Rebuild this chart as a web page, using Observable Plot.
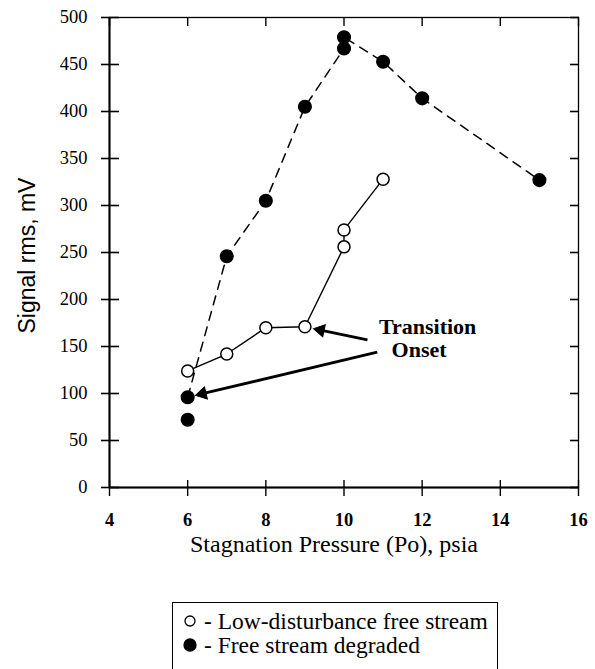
<!DOCTYPE html>
<html>
<head>
<meta charset="utf-8">
<script src="https://cdn.jsdelivr.net/npm/d3@7"></script>
<script src="https://cdn.jsdelivr.net/npm/@observablehq/plot@0.6"></script>
<style>
  body { margin: 0; background: #fff; width: 595px; height: 669px; overflow: hidden; position: relative; }
  #legend { position: absolute; left: 172px; top: 602px; width: 326px; height: 80px; box-sizing: border-box; padding-top: 6px;
    border: 1.5px solid #000; border-bottom: none; font-family: "Liberation Serif", serif; font-size: 23.5px; color: #000; }
  .row { display: flex; align-items: center; height: 24px; white-space: nowrap; }
  .row svg { margin-left: 10px; margin-right: 7px; }
</style>
</head>
<body>
<div id="chart"></div>
<div id="legend"></div>
<script>
// ---- data ----
const xTicks = [4, 6, 8, 10, 12, 14, 16];
const yTicks = [0, 50, 100, 150, 200, 250, 300, 350, 400, 450, 500];

// Low-disturbance free stream (open circles, solid line)
const lowPressure = [6, 7, 8, 9, 10, 10, 11];
const lowSignal   = [124, 142, 170, 171, 256, 274, 328];

// Free stream degraded (filled circles, dashed line)
const degPressure = [6, 7, 8, 9, 10, 10, 11, 12, 15];
const degSignal   = [96, 246, 305, 405, 467, 479, 453, 414, 327];
// extra unconnected degraded point
const degExtraPressure = [6];
const degExtraSignal   = [72];

// annotation: "Transition Onset" arrows (data units)
const arrowFromP = [10.6, 10.85];
const arrowFromV = [157, 144];
const arrowToP   = [9.22, 6.2];
const arrowToV   = [169, 98];
const noteText = ["Transition", "Onset"];
const noteP    = [12.14, 11.92];
const noteV    = [171, 146];

const yTitle = "Signal rms, mV";
const xTitle = "Stagnation Pressure (Po), psia";
const legendLabels = ["- Low-disturbance free stream", "- Free stream degraded"];

// ---- build tables ----
const low = lowPressure.map((p, i) => ({p, v: lowSignal[i]}));
const deg = degPressure.map((p, i) => ({p, v: degSignal[i]}));
const degAll = deg.concat(degExtraPressure.map((p, i) => ({p, v: degExtraSignal[i]})));
const notes = noteText.map((t, i) => ({t, p: noteP[i], v: noteV[i]}));

const serif = "'Liberation Serif', 'Times New Roman', serif";
const sans = "'Liberation Sans', Arial, sans-serif";
const blank = () => "";
const headR = 4.6;

const baseOptions = {
  width: 595,
  height: 590,
  marginLeft: 109,
  marginRight: 17,
  marginTop: 17,
  marginBottom: 103,
  style: {fontFamily: serif, background: "white", color: "black", overflow: "visible"},
  x: {domain: [4, 16], label: null},
  y: {domain: [0, 500], label: null}
};

// first pass: obtain the library's scales to orient the arrowheads
const probe = Plot.plot({...baseOptions, marks: [Plot.frame()]});
const sx = probe.scale("x"), sy = probe.scale("y");
const heads = [], shafts = [];
arrowFromP.forEach((p, i) => {
  const x1 = sx.apply(p), y1 = sy.apply(arrowFromV[i]);
  const x2 = sx.apply(arrowToP[i]), y2 = sy.apply(arrowToV[i]);
  const len = Math.hypot(x2 - x1, y2 - y1);
  const ux = (x2 - x1) / len, uy = (y2 - y1) / len;
  const tri = Math.sqrt(headR * headR * Math.PI / (Math.sqrt(3) * 3));
  const cx = x2 - ux * 2 * tri, cy = y2 - uy * 2 * tri;
  const angle = Math.atan2(ux, -uy) * 180 / Math.PI;
  heads.push({p: sx.invert(cx), v: sy.invert(cy), angle});
  shafts.push({x1: arrowFromP[i], y1: arrowFromV[i], x2: sx.invert(cx), y2: sy.invert(cy)});
});

const chart = Plot.plot({
  ...baseOptions,
  marks: [
    Plot.frame({stroke: "black", strokeWidth: 1.3}),
    Plot.ruleX([4], {stroke: "black", strokeWidth: 2}),
    Plot.ruleY([0], {stroke: "black", strokeWidth: 2}),
    // left ticks crossing the axis
    Plot.axisY({anchor: "left", ticks: yTicks, tickSize: 18, dx: 10, tickFormat: blank, label: null, strokeWidth: 1.6}),
    Plot.axisY({anchor: "left", ticks: yTicks, tickSize: 0, tickPadding: 22, label: null, fontSize: 18.5, fontFamily: serif}),
    // right ticks pointing inward
    Plot.axisY({anchor: "right", ticks: yTicks, tickSize: 9, dx: -9, tickFormat: blank, label: null, strokeWidth: 1.6}),
    // bottom ticks crossing
    Plot.axisX({anchor: "bottom", ticks: xTicks, tickSize: 16, dy: -7, tickFormat: blank, label: null, strokeWidth: 1.4}),
    Plot.axisX({anchor: "bottom", ticks: xTicks, tickSize: 0, tickPadding: 25, label: null, fontSize: 18.5, fontWeight: "bold", fontFamily: serif}),
    // top ticks pointing inward
    Plot.axisX({anchor: "top", ticks: xTicks, tickSize: 8, dy: 8, tickFormat: blank, label: null, strokeWidth: 1.4}),
    // axis titles
    Plot.text([yTitle], {frameAnchor: "left", text: d => d, rotate: -90, textAnchor: "middle", dx: -82, dy: 3,
      fontSize: 23, fontFamily: sans, fill: "black"}),
    Plot.text([xTitle], {frameAnchor: "bottom", text: d => d, dx: -10, dy: 64,
      fontSize: 24, fontFamily: serif, fill: "black"}),
    // series
    Plot.line(deg, {x: "p", y: "v", stroke: "black", strokeWidth: 1.5, strokeDasharray: "9,7"}),
    Plot.line(low, {x: "p", y: "v", stroke: "black", strokeWidth: 1.4}),
    Plot.dot(low, {x: "p", y: "v", r: 6, fill: "white", stroke: "black", strokeWidth: 1.5}),
    Plot.dot(degAll, {x: "p", y: "v", r: 6.3, fill: "black", stroke: "black"}),
    // annotation arrows with filled heads
    Plot.link(shafts, {x1: "x1", y1: "y1", x2: "x2", y2: "y2", stroke: "black", strokeWidth: 2.8}),
    Plot.dot(heads, {x: "p", y: "v", symbol: "triangle", r: headR, rotate: "angle", fill: "black", stroke: "black", strokeWidth: 1}),
    Plot.text(notes, {x: "p", y: "v", text: "t", fontSize: 22, fontWeight: "bold", fontFamily: serif, fill: "black"})
  ]
});
// enforce fonts with inline styles (serif everywhere except the y title)
d3.select(chart).selectAll("text").each(function() {
  const isY = this.textContent === yTitle;
  this.style.fontFamily = isY ? sans : serif;
});
document.getElementById("chart").appendChild(chart);

// ---- legend ----
const legend = d3.select("#legend");
legendLabels.forEach((label, i) => {
  const row = legend.append("div").attr("class", "row");
  const svg = row.append("svg").attr("width", 14).attr("height", 14);
  svg.append("circle").attr("cx", 7).attr("cy", 7).attr("r", i === 0 ? 5 : 6)
    .attr("fill", i === 0 ? "white" : "black").attr("stroke", "black").attr("stroke-width", 1.3);
  row.append("span").text(label);
});
</script>
</body>
</html>
